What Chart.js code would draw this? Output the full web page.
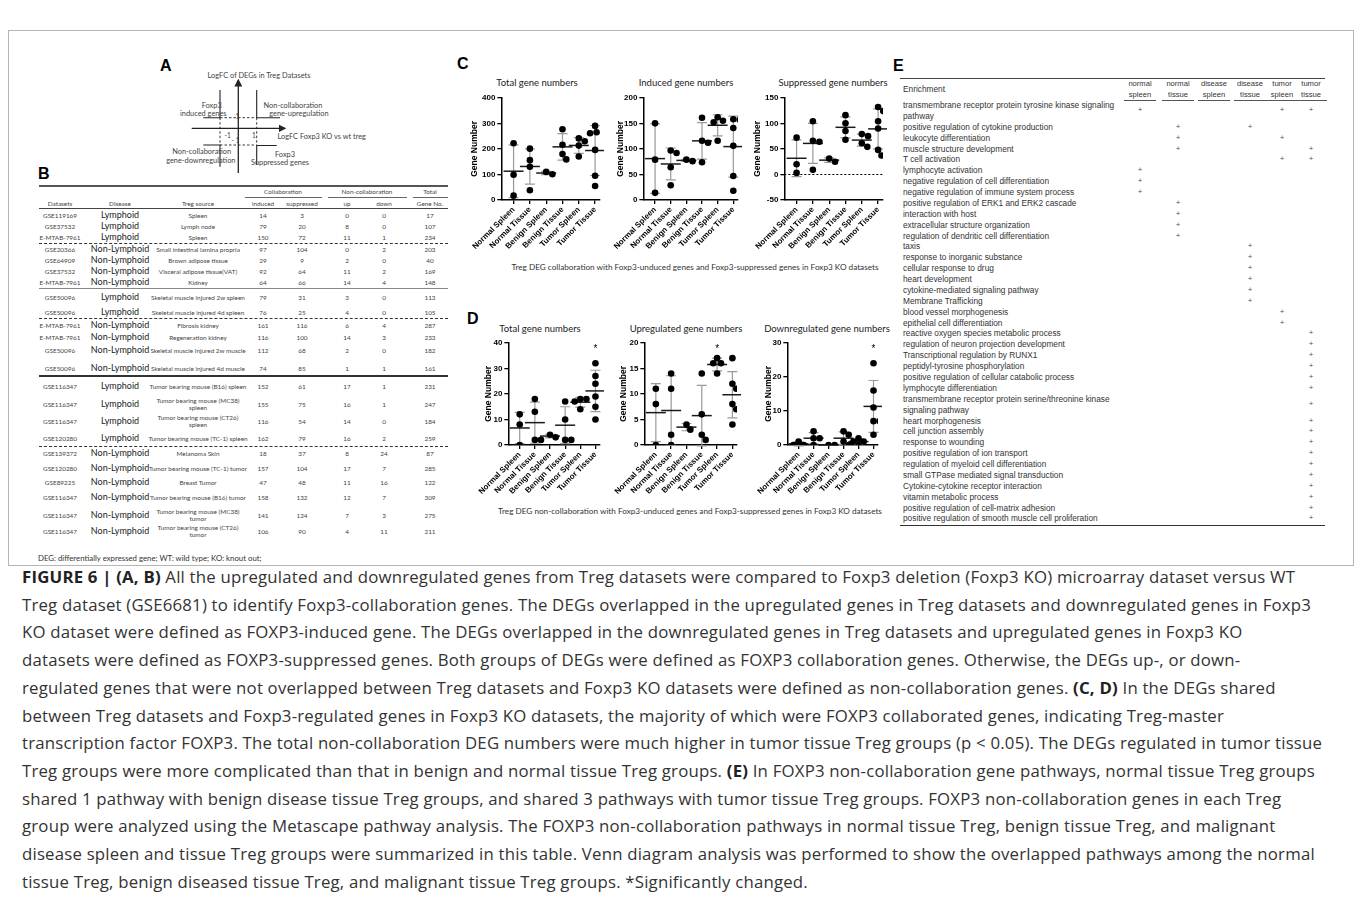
<!DOCTYPE html>
<html>
<head>
<meta charset="utf-8">
<script src="https://cdn.jsdelivr.net/npm/chart.js@4.4.0/dist/chart.umd.min.js"></script>
<style>
  body { margin: 0; background: #fff; width: 1357px; height: 905px; position: relative; overflow: hidden;
         font-family: 'Liberation Sans', Arial, sans-serif; color: #333; }
  .abs { position: absolute; white-space: nowrap; }
  .plabel { position: absolute; font: bold 16px 'Liberation Sans', Arial, sans-serif; color: #000; line-height: 16px; }
  .frame { position: absolute; left: 8px; top: 30px; width: 1344px; height: 534px; border: 1px solid #b5b5b5; }
  .ptitle { position: absolute; width: 200px; text-align: center; font: 9.5px Lato, sans-serif; color: #222; line-height: 12px; }
  .subcap { position: absolute; width: 500px; text-align: center; font: 8.2px Lato, sans-serif; color: #333; line-height: 10px; }
  .cell { position: absolute; transform: translateX(-50%); text-align: center; font: 6.4px Lato, sans-serif; color: #444; white-space: nowrap; }
  .dis { font-size: 9px; color: #222; }
  .hline { position: absolute; height: 0; }
  .erow { position: absolute; left: 903px; font: 8.3px 'Liberation Sans', Arial, sans-serif; color: #333; line-height: 10.9px; white-space: nowrap; }
  .emark { position: absolute; transform: translateX(-50%); font: 8px 'Liberation Sans', Arial, sans-serif; color: #555; line-height: 10.9px; }
  .ehead { position: absolute; transform: translateX(-50%); text-align: center; font: 7.6px 'Liberation Sans', Arial, sans-serif; color: #333; line-height: 10.6px; white-space: nowrap; }
  .caption { position: absolute; left: 22px; font: 16.8px 'Open Sans', sans-serif; letter-spacing: 0.2px; color: #333; white-space: nowrap; line-height: 20px; }
  .caption b { color: #222; }
  canvas { position: absolute; }
</style>
</head>
<body>
<div class="frame"></div>

<!-- ===== Panel labels ===== -->
<div class="plabel" style="left:160px;top:58px;">A</div>
<div class="plabel" style="left:38px;top:166px;">B</div>
<div class="plabel" style="left:457px;top:56px;">C</div>
<div class="plabel" style="left:467px;top:311px;">D</div>
<div class="plabel" style="left:893px;top:58px;">E</div>

<!-- ===== Panel A: quadrant sketch ===== -->
<svg class="abs" style="left:0;top:0;" width="460" height="190" font-family="Lato, sans-serif" font-size="7.4" fill="#444">
  <defs>
    <marker id="arr" markerWidth="6" markerHeight="6" refX="5" refY="3" orient="auto">
      <path d="M0,0 L6,3 L0,6 z" fill="#222"/>
    </marker>
  </defs>
  <text x="259" y="77.5" text-anchor="middle">LogFC of DEGs in Treg Datasets</text>
  <line x1="238.3" y1="173" x2="238.3" y2="80" stroke="#222" stroke-width="1.3" marker-end="url(#arr)"/>
  <line x1="191.7" y1="128.3" x2="285" y2="128.3" stroke="#222" stroke-width="1.3" marker-end="url(#arr)"/>
  <g stroke="#222" stroke-width="1.1" fill="none">
    <polyline points="220,90 220,117.7 203.3,117.7"/>
    <polyline points="256.7,90 256.7,117.7 280,117.7"/>
    <polyline points="203.3,145 220,145 220,166.7"/>
    <polyline points="276.7,145.5 256.7,145.5 256.7,165"/>
  </g>
  <g stroke="#222" stroke-width="0.9" stroke-dasharray="2.5,2" fill="none">
    <line x1="220" y1="117.7" x2="256.7" y2="117.7"/>
    <line x1="220" y1="117.7" x2="220" y2="145"/>
    <line x1="256.7" y1="117.7" x2="256.7" y2="145"/>
    <line x1="220" y1="145" x2="256.7" y2="145"/>
  </g>
  <text x="211.7" y="107.5" text-anchor="middle">Foxp3</text>
  <text x="203.3" y="115.8" text-anchor="middle">induced genes</text>
  <text x="293" y="107.5" text-anchor="middle">Non-collaboration</text>
  <text x="299" y="115.8" text-anchor="middle">gene-upregulation</text>
  <text x="237.3" y="118.5" text-anchor="middle" font-size="6.6">1</text>
  <text x="227.7" y="137.5" text-anchor="middle" font-size="6.6">-1</text>
  <text x="254" y="137.5" text-anchor="middle" font-size="6.6">1</text>
  <text x="235.5" y="143.2" text-anchor="middle" font-size="6.6">- 1</text>
  <text x="321.7" y="138.5" text-anchor="middle">LogFC Foxp3 KO vs wt treg</text>
  <text x="201.7" y="154.2" text-anchor="middle">Non-collaboration</text>
  <text x="200.8" y="162.5" text-anchor="middle">gene-downregulation</text>
  <text x="285" y="156.5" text-anchor="middle">Foxp3</text>
  <text x="280" y="165.2" text-anchor="middle">Suppressed genes</text>
</svg>

<!-- ===== Panel B: table ===== -->
<div id="tableB"></div>
<div class="abs" style="left:38px;top:553px;font:7.8px Lato, sans-serif;color:#333;line-height:10px;">DEG: differentially expressed gene; WT: wild type; KO: knout out;</div>

<!-- ===== Panels C and D: scatter charts ===== -->
<div class="ptitle" style="left:437px;top:77px;">Total gene numbers</div>
<div class="ptitle" style="left:586px;top:77px;">Induced gene numbers</div>
<div class="ptitle" style="left:733px;top:77px;">Suppressed gene numbers</div>
<div class="ptitle" style="left:440px;top:323px;">Total gene numbers</div>
<div class="ptitle" style="left:586px;top:323px;">Upregulated gene numbers</div>
<div class="ptitle" style="left:727px;top:323px;">Downregulated gene numbers</div>

<canvas id="c-total" width="135" height="161" style="left:469px;top:91px;"></canvas>
<canvas id="c-induced" width="131" height="161" style="left:611px;top:91px;"></canvas>
<canvas id="c-suppressed" width="135" height="161" style="left:752px;top:91px;"></canvas>
<canvas id="d-total" width="128" height="161" style="left:476px;top:336px;"></canvas>
<canvas id="d-up" width="129" height="161" style="left:612px;top:336px;"></canvas>
<canvas id="d-down" width="127" height="161" style="left:755px;top:336px;"></canvas>

<div class="subcap" style="left:445px;top:262px;">Treg DEG collaboration with Foxp3-unduced genes and Foxp3-suppressed genes in Foxp3 KO datasets</div>
<div class="subcap" style="left:440px;top:506px;">Treg DEG non-collaboration with Foxp3-unduced genes and Foxp3-suppressed genes in Foxp3 KO datasets</div>

<!-- ===== Panel E: table ===== -->
<div id="tableE"></div>

<!-- ===== Figure caption ===== -->
<div id="caption"></div>

<script>
const GROUPS = ['Normal Spleen', 'Normal Tissue', 'Benign Spleen', 'Benign Tissue', 'Tumor Spleen', 'Tumor Tissue'];

const C_TOTAL      = [[17, 99, 222], [201, 38, 156, 130], [110, 101], [277, 216, 180, 159], [213, 230, 170, 241], [55, 261, 95, 290, 265, 196]];
const C_INDUCED    = [[14, 79, 150], [97, 29, 92, 64], [79, 76], [161, 116, 112, 74], [152, 155, 116, 162], [18, 157, 47, 158, 141, 106]];
const C_SUPPRESSED = [[3, 20, 72], [104, 9, 64, 66], [31, 25], [116, 100, 68, 85], [61, 75, 54, 79], [37, 104, 48, 132, 124, 90]];

const D_TOTAL = [[0, 8, 12], [2, 2, 13, 18], [3, 4], [10, 17, 2, 2], [18, 17, 14, 18], [32, 24, 27, 19, 10, 15]];
const D_UP    = [[0, 8, 11], [0, 2, 11, 14], [3, 4], [6, 14, 2, 1], [17, 16, 14, 16], [8, 17, 11, 12, 7, 4]];
const D_DOWN  = [[0, 0, 1], [2, 0, 2, 4], [0, 0], [4, 3, 0, 1], [1, 1, 0, 2], [24, 7, 16, 7, 3, 11]];

// ---------- table data ----------
const B_ROWS = [
  ['GSE119169', 'Lymphoid', 'Spleen', 14, 3, 0, 0, 17],
  ['GSE37532', 'Lymphoid', 'Lymph node', 79, 20, 8, 0, 107],
  ['E-MTAB-7961', 'Lymphoid', 'Spleen', 150, 72, 11, 1, 234],
  ['GSE20366', 'Non-Lymphoid', 'Small intestinal lamina propria', 97, 104, 0, 2, 203],
  ['GSE64909', 'Non-Lymphoid', 'Brown adipose tissue', 29, 9, 2, 0, 40],
  ['GSE37532', 'Non-Lymphoid', 'Visceral adipose tissue(VAT)', 92, 64, 11, 2, 169],
  ['E-MTAB-7961', 'Non-Lymphoid', 'Kidney', 64, 66, 14, 4, 148],
  ['GSE50096', 'Lymphoid', 'Skeletal muscle injured 2w spleen', 79, 31, 3, 0, 113],
  ['GSE50096', 'Lymphoid', 'Skeletal muscle injured 4d spleen', 76, 25, 4, 0, 105],
  ['E-MTAB-7961', 'Non-Lymphoid', 'Fibrosis kidney', 161, 116, 6, 4, 287],
  ['E-MTAB-7961', 'Non-Lymphoid', 'Regeneration kidney', 116, 100, 14, 3, 233],
  ['GSE50096', 'Non-Lymphoid', 'Skeletal muscle injured 2w muscle', 112, 68, 2, 0, 182],
  ['GSE50096', 'Non-Lymphoid', 'Skeletal muscle injured 4d muscle', 74, 85, 1, 1, 161],
  ['GSE116347', 'Lymphoid', 'Tumor bearing mouse (B16) spleen', 152, 61, 17, 1, 231],
  ['GSE116347', 'Lymphoid', 'Tumor bearing mouse (MC38)<br>spleen', 155, 75, 16, 1, 247],
  ['GSE116347', 'Lymphoid', 'Tumor bearing mouse (CT26)<br>spleen', 116, 54, 14, 0, 184],
  ['GSE120280', 'Lymphoid', 'Tumor bearing mouse (TC-1) spleen', 162, 79, 16, 2, 259],
  ['GSE139372', 'Non-Lymphoid', 'Melanoma Skin', 18, 37, 8, 24, 87],
  ['GSE120280', 'Non-Lymphoid', 'Tumor bearing mouse (TC-1) tumor', 157, 104, 17, 7, 285],
  ['GSE89225', 'Non-Lymphoid', 'Breast Tumor', 47, 48, 11, 16, 122],
  ['GSE116347', 'Non-Lymphoid', 'Tumor bearing mouse (B16) tumor', 158, 132, 12, 7, 309],
  ['GSE116347', 'Non-Lymphoid', 'Tumor bearing mouse (MC38)<br>tumor', 141, 124, 7, 3, 275],
  ['GSE116347', 'Non-Lymphoid', 'Tumor bearing mouse (CT26)<br>tumor', 106, 90, 4, 11, 211]
];

const E_COLS = ['normal<br>spleen', 'normal<br>tissue', 'disease<br>spleen', 'disease<br>tissue', 'tumor<br>spleen', 'tumor<br>tissue'];
// [pathway, columns marked with +]
const E_ROWS = [
  ['transmembrane receptor protein tyrosine kinase signaling<br>pathway', [0, 4, 5]],
  ['positive regulation of cytokine production', [1, 3]],
  ['leukocyte differentiation', [1, 4]],
  ['muscle structure development', [1, 5]],
  ['T cell activation', [4, 5]],
  ['lymphocyte activation', [0]],
  ['negative regulation of cell differentiation', [0]],
  ['negative regulation of immune system process', [0]],
  ['positive regulation of ERK1 and ERK2 cascade', [1]],
  ['interaction with host', [1]],
  ['extracellular structure organization', [1]],
  ['regulation of dendritic cell differentiation', [1]],
  ['taxis', [3]],
  ['response to inorganic substance', [3]],
  ['cellular response to drug', [3]],
  ['heart development', [3]],
  ['cytokine-mediated signaling pathway', [3]],
  ['Membrane Trafficking', [3]],
  ['blood vessel morphogenesis', [4]],
  ['epithelial cell differentiation', [4]],
  ['reactive oxygen species metabolic process', [5]],
  ['regulation of neuron projection development', [5]],
  ['Transcriptional regulation by RUNX1', [5]],
  ['peptidyl-tyrosine phosphorylation', [5]],
  ['positive regulation of cellular catabolic process', [5]],
  ['lymphocyte differentiation', [5]],
  ['transmembrane receptor protein serine/threonine kinase<br>signaling pathway', [5]],
  ['heart morphogenesis', [5]],
  ['cell junction assembly', [5]],
  ['response to wounding', [5]],
  ['positive regulation of ion transport', [5]],
  ['regulation of myeloid cell differentiation', [5]],
  ['small GTPase mediated signal transduction', [5]],
  ['Cytokine-cytokine receptor interaction', [5]],
  ['vitamin metabolic process', [5]],
  ['positive regulation of cell-matrix adhesion', [5]],
  ['positive regulation of smooth muscle cell proliferation', [5]]
];

const CAPTION = [
  '<b>FIGURE 6 | (A, B)</b> All the upregulated and downregulated genes from Treg datasets were compared to Foxp3 deletion (Foxp3 KO) microarray dataset versus WT',
  'Treg dataset (GSE6681) to identify Foxp3-collaboration genes. The DEGs overlapped in the upregulated genes in Treg datasets and downregulated genes in Foxp3',
  'KO dataset were defined as FOXP3-induced gene. The DEGs overlapped in the downregulated genes in Treg datasets and upregulated genes in Foxp3 KO',
  'datasets were defined as FOXP3-suppressed genes. Both groups of DEGs were defined as FOXP3 collaboration genes. Otherwise, the DEGs up-, or down-',
  'regulated genes that were not overlapped between Treg datasets and Foxp3 KO datasets were defined as non-collaboration genes. <b>(C, D)</b> In the DEGs shared',
  'between Treg datasets and Foxp3-regulated genes in Foxp3 KO datasets, the majority of which were FOXP3 collaborated genes, indicating Treg-master',
  'transcription factor FOXP3. The total non-collaboration DEG numbers were much higher in tumor tissue Treg groups (p &lt; 0.05). The DEGs regulated in tumor tissue',
  'Treg groups were more complicated than that in benign and normal tissue Treg groups. <b>(E)</b> In FOXP3 non-collaboration gene pathways, normal tissue Treg groups',
  'shared 1 pathway with benign disease tissue Treg groups, and shared 3 pathways with tumor tissue Treg groups. FOXP3 non-collaboration genes in each Treg',
  'group were analyzed using the Metascape pathway analysis. The FOXP3 non-collaboration pathways in normal tissue Treg, benign tissue Treg, and malignant',
  'disease spleen and tissue Treg groups were summarized in this table. Venn diagram analysis was performed to show the overlapped pathways among the normal',
  'tissue Treg, benign diseased tissue Treg, and malignant tissue Treg groups. *Significantly changed.'
];

// ================================================
// Table B
// ================================================
(function () {
  const el = document.getElementById('tableB');
  const colX = [60, 120, 198, 263, 302, 347, 384, 430];
  const rowY = [215, 226, 237, 249, 260, 271, 282, 297, 312, 325, 337, 350, 368, 386, 404, 421, 438, 453, 468, 482, 497, 515, 531];
  let html = '';
  const line = (y, x1, x2, style) =>
    `<div class="hline" style="left:${x1}px;top:${y}px;width:${x2 - x1}px;border-top:${style};"></div>`;

  html += line(185, 39, 448, '2px solid #555');
  html += line(197, 245, 322, '1px solid #666') + line(197, 328, 407, '1px solid #666') + line(197, 413, 448, '1px solid #666');
  html += line(208, 39, 448, '1.3px solid #444');
  html += line(243, 39, 448, '1.5px dashed #333');
  html += line(288, 39, 448, '1px solid #888');
  html += line(318, 39, 448, '1.5px dashed #333');
  html += line(374.5, 39, 448, '2px solid #333');
  html += line(446, 39, 448, '1.5px dashed #333');

  const cell = (x, y, txt, cls, lh) =>
    `<div class="cell ${cls || ''}" style="left:${x}px;top:${y - lh / 2}px;line-height:${lh}px;">${txt}</div>`;

  html += cell(283, 191, 'Collaboration', '', 9) + cell(367, 191, 'Non-collaboration', '', 9) + cell(430, 191, 'Total', '', 9);
  ['Datasets', 'Disease', 'Treg source', 'induced', 'suppressed', 'up', 'down', 'Gene No.']
    .forEach((h, i) => { html += cell(colX[i], 203, h, '', 9); });

  B_ROWS.forEach((r, i) => {
    const y = rowY[i];
    r.forEach((v, c) => {
      const two = typeof v === 'string' && v.indexOf('<br>') >= 0;
      if (c === 1) html += cell(colX[c], y - 0.5, v, 'dis', 11);
      else html += two ? `<div class="cell" style="left:${colX[c]}px;top:${y - 7.5}px;line-height:7.5px;">${v}</div>`
                       : cell(colX[c], y, v, '', 9);
    });
  });
  el.innerHTML = html;
})();

// ================================================
// Table E
// ================================================
(function () {
  const el = document.getElementById('tableE');
  const colX = [1140, 1178, 1214, 1250, 1282, 1311];
  const rowH = 10.88;
  let html = '';
  html += `<div class="hline" style="left:900px;top:77.5px;width:425px;border-top:1.6px solid #444;"></div>`;
  html += `<div class="erow" style="top:84px;">Enrichment</div>`;
  E_COLS.forEach((h, i) => {
    html += `<div class="ehead" style="left:${colX[i]}px;top:79px;">${h}</div>`;
    html += `<div class="hline" style="left:${colX[i] - 16}px;top:100px;width:32px;border-top:1px solid #555;"></div>`;
  });
  let y = 100;
  E_ROWS.forEach(([name, marks]) => {
    const lines = name.split('<br>').length;
    const h = rowH * lines;
    html += `<div class="erow" style="top:${y}px;">${name}</div>`;
    marks.forEach(m => {
      html += `<div class="emark" style="left:${colX[m]}px;top:${y + (h - rowH) / 2}px;">+</div>`;
    });
    y += h;
  });
  html += `<div class="hline" style="left:900px;top:${y + 1}px;width:425px;border-top:1.5px solid #333;"></div>`;
  el.innerHTML = html;
})();

// ================================================
// Caption
// ================================================
(function () {
  document.getElementById('caption').innerHTML = CAPTION.map((t, i) =>
    `<div class="caption" style="top:${567 + i * 27.7}px;">${t}</div>`).join('');
})();

// ================================================
// Scatter dot plots (mean ± SD), panels C and D
// ================================================
const CAT_PX = 16.3;   // pixel spacing between groups
const PLOT_H = 103;    // plot height in pixels
const DOT = 6.6;       // dot diameter used for dodging

// simple beeswarm: push overlapping dots sideways
function swarm(vals, range) {
  const k = PLOT_H / range;
  const placed = [];
  const off = vals.map(() => 0);
  const order = vals.map((v, i) => i).sort((a, b) => vals[b] - vals[a]);
  order.forEach(i => {
    const yp = vals[i] * k;
    const cands = [0];
    placed.forEach(p => {
      const dy = Math.abs(p.y - yp);
      if (dy < DOT) {
        const dx = Math.sqrt(DOT * DOT - dy * dy);
        cands.push(p.x + dx, p.x - dx);
      }
    });
    cands.sort((a, b) => Math.abs(a) - Math.abs(b));
    const x = cands.find(c => placed.every(p => Math.hypot(p.x - c, p.y - yp) > DOT - 0.01));
    placed.push({ x, y: yp });
    off[i] = x / CAT_PX;
  });
  return off;
}

const meanSdPlugin = {
  id: 'meanSd',
  beforeDatasetsDraw(chart, args, opts) {
    const { ctx, chartArea, scales: { x, y } } = chart;
    ctx.save();
    if (opts.zeroLine) {
      ctx.strokeStyle = '#000';
      ctx.lineWidth = 1;
      ctx.setLineDash([2, 2]);
      const zy = Math.round(y.getPixelForValue(0)) + 0.5;
      ctx.beginPath(); ctx.moveTo(chartArea.left, zy); ctx.lineTo(chartArea.right, zy); ctx.stroke();
      ctx.setLineDash([]);
    }
    opts.groups.forEach((vals, g) => {
      const n = vals.length;
      const m = vals.reduce((s, v) => s + v, 0) / n;
      const sd = Math.sqrt(vals.reduce((s, v) => s + (v - m) * (v - m), 0) / (n - 1));
      const px = x.getPixelForValue(g);
      const top = y.getPixelForValue(m + sd), bot = y.getPixelForValue(m - sd), mid = y.getPixelForValue(m);
      ctx.strokeStyle = '#9a9a9a';
      ctx.lineWidth = 1.2;
      ctx.beginPath();
      ctx.moveTo(px, top); ctx.lineTo(px, bot);
      ctx.moveTo(px - 5, top); ctx.lineTo(px + 5, top);
      ctx.moveTo(px - 5, bot); ctx.lineTo(px + 5, bot);
      ctx.stroke();
      ctx.strokeStyle = '#1a1a1a';
      ctx.lineWidth = 1.5;
      ctx.beginPath(); ctx.moveTo(px - 10, mid); ctx.lineTo(px + 10, mid); ctx.stroke();
    });
    ctx.restore();
  },
  afterDatasetsDraw(chart, args, opts) {
    if (opts.sig == null) return;
    const { ctx, chartArea, scales: { x } } = chart;
    ctx.save();
    ctx.fillStyle = '#000';
    ctx.font = '10px "Liberation Sans", Arial';
    ctx.textAlign = 'center';
    ctx.textBaseline = 'alphabetic';
    ctx.fillText('*', x.getPixelForValue(opts.sig), chartArea.top + 3.5 + 5.7);
    ctx.restore();
  }
};

const AXIS_FONT = { family: "'Liberation Sans', Arial, sans-serif", weight: 'bold', size: 8 };

function makeChart(id, groups, yMin, yMax, step, yw, extra) {
  const range = yMax - yMin;
  const pts = [];
  groups.forEach((vals, g) => {
    const off = swarm(vals, range);
    vals.forEach((v, j) => pts.push({ x: g + off[j], y: v }));
  });

  new Chart(document.getElementById(id), {
    type: 'scatter',
    data: {
      datasets: [{
        data: pts,
        backgroundColor: '#000',
        borderWidth: 0,
        pointRadius: 3.3,
        pointHoverRadius: 3.3
      }]
    },
    options: {
      responsive: false,
      animation: false,
      devicePixelRatio: 1,
      layout: { padding: { top: 6, right: 4, left: 0, bottom: 0 } },
      plugins: {
        legend: { display: false },
        tooltip: { enabled: false },
        meanSd: { groups, zeroLine: !!extra.zeroLine, sig: extra.sig }
      },
      scales: {
        x: {
          type: 'linear',
          min: -0.75,
          max: 5.3,
          afterBuildTicks: s => { s.ticks = GROUPS.map((_, i) => ({ value: i })); },
          afterFit: s => { s.height = 52; },
          ticks: {
            autoSkip: false, minRotation: 45, maxRotation: 45, padding: 1,
            color: '#000', font: AXIS_FONT,
            callback: v => GROUPS[v]
          },
          grid: { drawOnChartArea: false, drawTicks: true, tickLength: 4, color: '#000', lineWidth: 1.3 },
          border: { color: '#000', width: 1.5 }
        },
        y: {
          min: yMin,
          max: yMax,
          afterFit: s => { s.width = yw; },
          ticks: { stepSize: step, padding: 2, color: '#000', font: AXIS_FONT },
          grid: { drawOnChartArea: false, drawTicks: true, tickLength: 4, color: '#000', lineWidth: 1.3 },
          border: { color: '#000', width: 1.5 },
          title: {
            display: true, text: 'Gene Number', color: '#000', padding: 0,
            font: { family: "'Liberation Sans', Arial, sans-serif", weight: 'bold', size: 8.5 }
          }
        }
      }
    },
    plugins: [meanSdPlugin]
  });
}

makeChart('c-total', C_TOTAL, 0, 400, 100, 32, {});
makeChart('c-induced', C_INDUCED, 0, 200, 50, 28, {});
makeChart('c-suppressed', C_SUPPRESSED, -50, 150, 50, 32, { zeroLine: true });
makeChart('d-total', D_TOTAL, 0, 40, 10, 25, { sig: 5 });
makeChart('d-up', D_UP, 0, 20, 5, 26, { sig: 4 });
makeChart('d-down', D_DOWN, 0, 30, 10, 24, { sig: 5 });
</script>
</body>
</html>
